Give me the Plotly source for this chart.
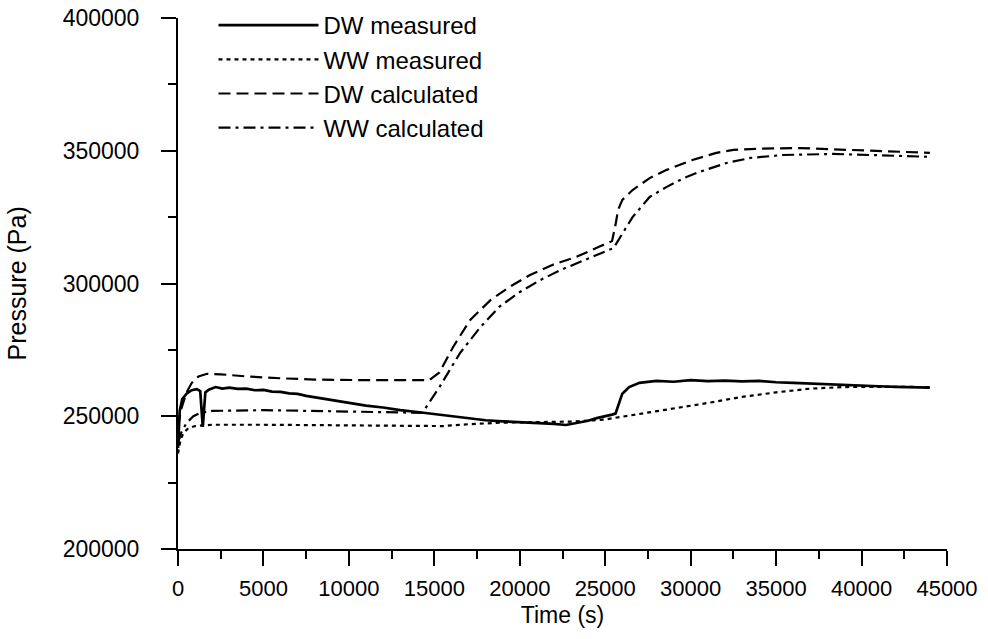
import plotly.graph_objects as go

# ---- data ----
dw_meas_t = [0, 100, 250, 500, 800, 1100, 1300, 1380, 1450, 1520, 1600, 1800, 2200, 2600, 3000, 3500,
             4000, 4500, 5000, 5500, 6000, 6500, 7000, 7500, 8000, 8500, 9000, 9500, 10000, 11000,
             12000, 13000, 14000, 15000, 16000, 17000, 18000, 19000, 20000, 21000, 22000, 22700,
             23500, 24000, 24500, 25000, 25400, 25600, 25800, 26000, 26400, 27000, 28000, 29000,
             30000, 31000, 32000, 33000, 34000, 35000, 36000, 37000, 38000, 39000, 40000, 41000,
             42000, 43000, 44000]
dw_meas_p = [238000, 252000, 256500, 258500, 259800, 260200, 259500, 252000, 246000, 252000, 259000,
             260000, 261000, 260400, 260800, 260300, 260400, 259800, 259900, 259300, 259200, 258600,
             258400, 257700, 257200, 256600, 256000, 255500, 255000, 254000, 253300, 252300, 251600,
             250800, 249900, 249200, 248500, 248100, 247800, 247400, 247100, 246700, 247700, 248300,
             249300, 249900, 250600, 251000, 255000, 258500, 261000, 262600, 263300, 263000, 263600,
             263200, 263400, 263100, 263300, 262800, 262600, 262300, 262100, 261700, 261600, 261300,
             261100, 260900, 260800]

ww_meas_t = [0, 150, 300, 600, 1000, 2000, 5000, 10000, 14000, 15500, 17000, 19000, 21000, 23000,
             25000, 27000, 29000, 31000, 33000, 35000, 37000, 39000, 41000, 44000]
ww_meas_p = [236000, 241000, 243500, 245500, 246300, 246800, 246800, 246500, 246200, 246300, 247000,
             247600, 247800, 248000, 248800, 250800, 252800, 255000, 257300, 259000, 260400, 261000,
             261100, 261000]

dw_calc_t = [0, 200, 500, 800, 1200, 1700, 2500, 4000, 6000, 8000, 11000, 14700, 15300, 16100, 17100,
             18300, 19400, 20600, 21900, 23300, 24700, 25400, 25600, 25750, 26000, 26600, 27600,
             28600, 30100, 31500, 32500, 34000, 36400, 39300, 42000, 44000]
dw_calc_p = [246000, 253000, 259000, 262500, 265000, 266000, 265800, 265000, 264300, 263800, 263600,
             263600, 266500, 276100, 286300, 293800, 298700, 303200, 307000, 310000, 314000, 316000,
             322000, 327700, 331500, 335200, 339700, 342800, 346500, 349200, 350300, 350800, 351000,
             350300, 349800, 349200]

ww_calc_t = [0, 200, 500, 900, 1300, 2000, 5000, 8000, 11000, 14300, 15300, 16500, 17700, 18800,
             20000, 21200, 22400, 23500, 24700, 25500, 25700, 26600, 27600, 28600, 29600, 30500,
             32100, 33500, 35400, 38300, 41000, 44000]
ww_calc_p = [240000, 244000, 247500, 250000, 251300, 252000, 252300, 252000, 251800, 251300, 261000,
             273800, 283600, 291200, 296800, 301300, 305100, 308100, 311500, 313400, 315600, 325000,
             332600, 336400, 339700, 342000, 345400, 347300, 348400, 348800, 348300, 347700]

names = ["DW measured", "WW measured", "DW calculated", "WW calculated"]
x_ticks = [0, 5000, 10000, 15000, 20000, 25000, 30000, 35000, 40000, 45000]
y_ticks = [200000, 250000, 300000, 350000, 400000]
x_title = "Time (s)"
y_title = "Pressure (Pa)"

FONT = "Liberation Sans, Arial, sans-serif"

fig = go.Figure()
series = [
    (dw_meas_t, dw_meas_p, names[0], "solid", 2.7),
    (ww_meas_t, ww_meas_p, names[1], "4px,4px", 2.2),
    (dw_calc_t, dw_calc_p, names[2], "12px,6px", 2.2),
    (ww_calc_t, ww_calc_p, names[3], "12px,5px,3px,5px", 2.2),
]
for t, p, n, dash, w in series:
    fig.add_trace(go.Scatter(x=t, y=p, name=n, mode="lines", legendgroup=n,
                             line=dict(color="black", width=w, dash=dash)))

fig.update_layout(
    width=988, height=639,
    margin=dict(l=178, r=41, t=18, b=90, autoexpand=False),
    paper_bgcolor="white", plot_bgcolor="white",
    font=dict(family=FONT, size=22, color="black"),
    showlegend=True,
    legend=dict(xref="container", yref="container",
                x=0.2161, xanchor="left", y=0.9953, yanchor="top",
                bgcolor="rgba(0,0,0,0)", itemwidth=100, tracegroupgap=0,
                traceorder="grouped",
                font=dict(family=FONT, size=24, color="black")),
    annotations=[dict(text=y_title, textangle=-90, xref="paper", yref="paper",
                      x=-0.2094, y=0.5, xanchor="center", yanchor="middle",
                      showarrow=False, font=dict(family=FONT, size=25, color="black"))],
)
fig.update_xaxes(
    range=[0, 45000], tickvals=x_ticks, tickformat="d", automargin=True,
    showline=True, linecolor="black", linewidth=2,
    ticks="outside", ticklen=15, tickwidth=2, tickcolor="black",
    minor=dict(dtick=2500, ticks="outside", ticklen=8, tickwidth=2, tickcolor="black"),
    showgrid=False, zeroline=False, ticklabeloverflow="allow",
    tickfont=dict(size=22), ticklabelstandoff=4,
    title=dict(text=x_title, font=dict(size=23), standoff=6),
)
fig.update_yaxes(
    range=[200000, 400000], tickvals=y_ticks, tickformat="d", automargin=True,
    showline=True, linecolor="black", linewidth=2,
    ticks="outside", ticklen=15, tickwidth=2, tickcolor="black",
    minor=dict(dtick=25000, ticks="outside", ticklen=8, tickwidth=2, tickcolor="black"),
    showgrid=False, zeroline=False, ticklabeloverflow="allow",
    tickfont=dict(size=23), ticklabelstandoff=17,
)

# remove the page's default 8px body margin so the figure fills the window exactly
fig.write_html("out.html", config={"displayModeBar": False},
               post_script="document.body.style.margin='0';document.body.style.padding='0';")
